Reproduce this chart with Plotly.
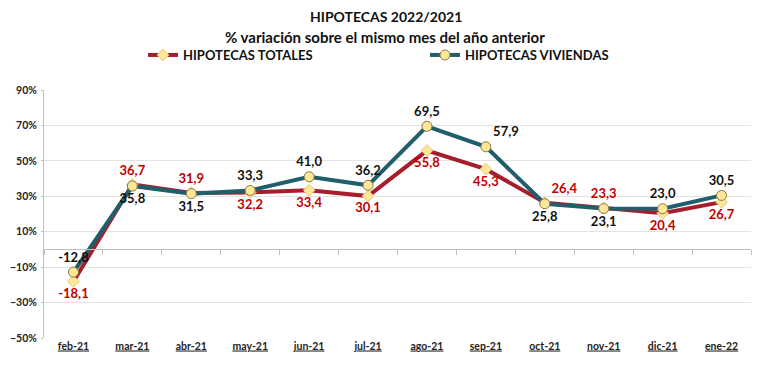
import plotly.graph_objects as go

months = ["feb-21", "mar-21", "abr-21", "may-21", "jun-21", "jul-21",
          "ago-21", "sep-21", "oct-21", "nov-21", "dic-21", "ene-22"]
totales = [-18.1, 36.7, 31.9, 32.2, 33.4, 30.1, 55.8, 45.3, 26.4, 23.3, 20.4, 26.7]
viviendas = [-12.8, 35.8, 31.5, 33.3, 41.0, 36.2, 69.5, 57.9, 25.8, 23.1, 23.0, 30.5]

pos_tot = ["bottom center", "top center", "top center", "bottom center", "bottom center",
           "bottom center", "bottom center", "bottom center", "top right", "top center",
           "bottom center", "bottom center"]
pos_viv = ["top center", "bottom center", "bottom center", "top center", "top center",
           "top center", "top center", "top right", "bottom center", "bottom center",
           "top center", "top center"]

def fmt(v):
    return f"{v:.1f}".replace(".", ",")

YMIN, YMAX = -50, 90
FONT = "Lato"
RED = "#A61E2B"
TEAL = "#215E6B"
FILL = "#FFE699"
W, H = 768, 377
OFF = 8  # page body margin in the browser
AXIS_X = 44
ML, MT = AXIS_X - OFF, 90 - OFF
PW, PH = 751 - AXIS_X, 248
MR, MB = W - ML - PW, H - MT - PH

def py(page_y):  # page pixel row -> paper y
    return (MT + PH - (page_y - OFF)) / PH

def pxx(page_x):  # page pixel column -> paper x
    return (page_x - OFF - ML) / PW

fig = go.Figure()
fig.add_trace(go.Scatter(
    x=months, y=totales, name="HIPOTECAS TOTALES",
    mode="lines+markers+text", cliponaxis=False,
    line=dict(color=RED, width=4),
    marker=dict(symbol="diamond", size=9, color=FILL, line=dict(color="#E8C97A", width=1)),
    text=[fmt(v) for v in totales], textposition=pos_tot,
    textfont=dict(family=FONT, size=13, color="#C00000", weight="bold"),
))
fig.add_trace(go.Scatter(
    x=months, y=viviendas, name="HIPOTECAS VIVIENDAS",
    mode="lines+markers+text", cliponaxis=False,
    line=dict(color=TEAL, width=4),
    marker=dict(symbol="circle", size=10, color=FILL, line=dict(color="#8A7A3A", width=1)),
    text=[fmt(v) for v in viviendas], textposition=pos_viv,
    textfont=dict(family=FONT, size=13, color="#111111", weight="bold"),
))
# hidden trace to carry the zero-crossing category axis
fig.add_trace(go.Scatter(x=months, y=[None] * len(months), xaxis="x2",
                         showlegend=False, hoverinfo="skip", mode="lines"))

zero_pos = (0 - YMIN) / (YMAX - YMIN)

fig.update_layout(
    width=W, height=H,
    margin=dict(l=ML, r=MR, t=MT, b=MB, autoexpand=False),
    paper_bgcolor="white", plot_bgcolor="white",
    font=dict(family=FONT, color="#111111"),
    annotations=[
        dict(text="<b>HIPOTECAS 2022/2021</b>", xref="paper", yref="paper",
             x=pxx(386), y=py(17), xanchor="center", yanchor="middle", showarrow=False,
             font=dict(family=FONT, size=14, color="#111111")),
        dict(text="<b>% variación sobre el mismo mes del año anterior</b>", xref="paper",
             yref="paper", x=pxx(385), y=py(37), xanchor="center", yanchor="middle",
             showarrow=False, font=dict(family=FONT, size=15, color="#111111")),
    ],
    legend=dict(
        orientation="h", xref="container", x=135 / W, xanchor="left",
        yref="container", y=1 - (55 - OFF) / H, yanchor="middle",
        entrywidth=237, entrywidthmode="pixels", itemwidth=30,
        font=dict(family=FONT, size=13, color="#111111", weight="bold"),
        bgcolor="rgba(0,0,0,0)",
    ),
    xaxis=dict(
        type="category", categoryarray=months, range=[-0.5, 11.5],
        showline=False, showgrid=False, ticks="", zeroline=False, automargin=False,
        tickfont=dict(family=FONT, size=10.5, color="#222222", weight="bold", lineposition="under"),
    ),
    xaxis2=dict(
        type="category", categoryarray=months, range=[-0.5, 11.5],
        overlaying="x", anchor="free", position=zero_pos, side="bottom",
        showline=True, linecolor="#BFBFBF", linewidth=1, automargin=False,
        ticks="outside", tickson="boundaries", ticklen=5, tickcolor="#BFBFBF",
        showticklabels=False, showgrid=False,
    ),
    yaxis=dict(
        range=[YMIN, YMAX], tick0=-50, dtick=20, automargin=False,
        ticksuffix="%", showgrid=True, gridcolor="#E3E3E3", gridwidth=1,
        zeroline=False, showline=True, linecolor="#BFBFBF", linewidth=1,
        ticks="outside", ticklen=2, tickcolor="#BFBFBF", ticklabelstandoff=2,
        tickfont=dict(family=FONT, size=10.5, color="#222222", weight="bold"),
    ),
)
fig.write_html("out.html")
